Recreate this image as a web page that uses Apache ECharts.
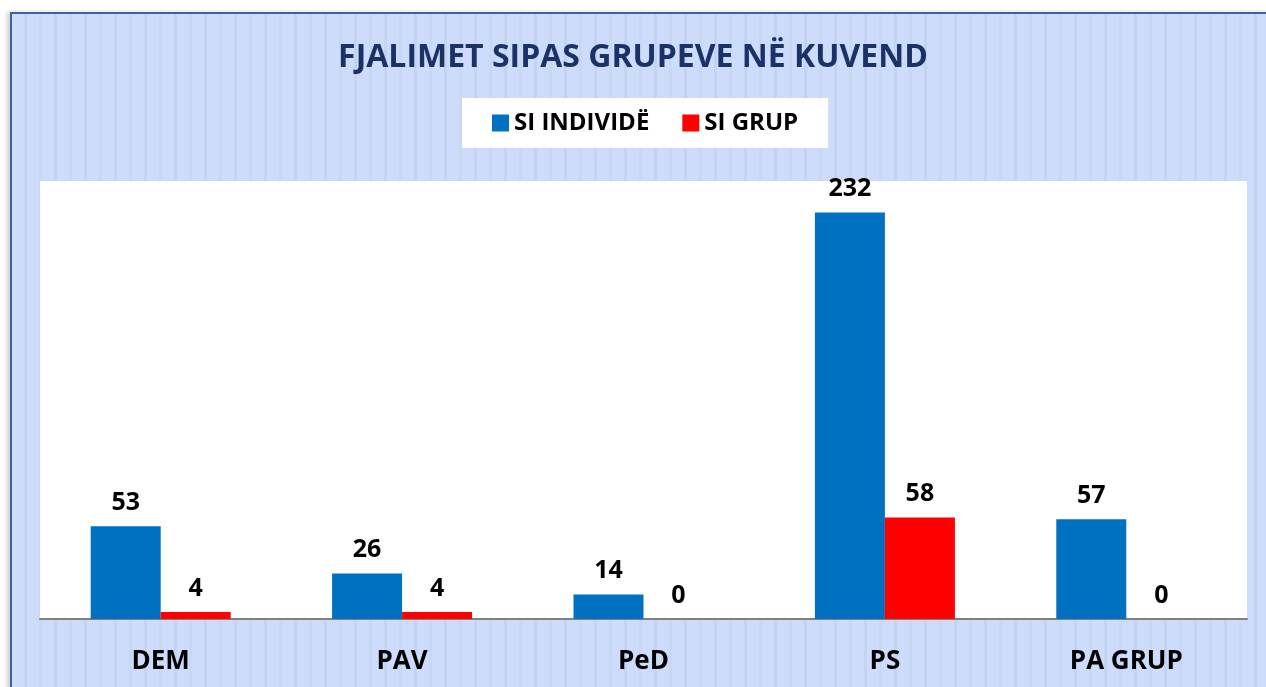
<!DOCTYPE html>
<html>
<head>
<meta charset="utf-8">
<script src="https://cdn.jsdelivr.net/npm/echarts@6/dist/echarts.min.js"></script>
<style>
  html, body { margin: 0; padding: 0; background: #fff; overflow: hidden; }
  #frame {
    position: absolute; left: 10px; top: 12px; width: 1270px; height: 690px;
    border-left: 2px solid #3a64a4; border-top: 2px solid #3a64a4;
    box-shadow: -3px 0 4px rgba(0,0,0,0.18);
    background-color: #cddcfb;
    background-image: repeating-linear-gradient(90deg,
      #cddcfb 0px, #cddcfb 12px, #c3d3f0 12px, #c3d3f0 15px,
      #cddcfb 15px, #cddcfb 27px, #c7d7f4 27px, #c7d7f4 30px);
  }
  #chart { position: absolute; left: 0; top: 0; width: 1266px; height: 687px; }
</style>
</head>
<body>
<div id="frame"></div>
<div id="chart"></div>
<script>
  const categories = ['DEM', 'PAV', 'PeD', 'PS', 'PA GRUP'];
  const individual = [53, 26, 14, 232, 57];
  const group = [4, 4, 0, 58, 0];
  const seriesNames = ['SI INDIVIDË', 'SI GRUP'];

  const chart = echarts.init(document.getElementById('chart'));
  const font = '"Open Sans", sans-serif';

  const labelStyle = {
    show: true,
    position: 'top',
    distance: 11,
    color: '#000',
    fontFamily: font,
    fontWeight: 'bold',
    fontSize: 25
  };

  chart.setOption({
    animation: false,
    title: {
      text: 'FJALIMET SIPAS GRUPEVE NË KUVEND',
      left: 'center',
      top: 37,
      textStyle: {
        color: '#1a3266',
        fontFamily: font,
        fontWeight: 'bold',
        fontSize: 32
      }
    },
    legend: {
      top: 98,
      left: 462,
      backgroundColor: '#fff',
      padding: [13, 30, 13, 30],
      itemWidth: 17,
      itemHeight: 17,
      itemGap: 33,
      icon: 'rect',
      data: seriesNames,
      textStyle: {
        color: '#000',
        fontFamily: font,
        fontWeight: 'bold',
        fontSize: 24
      }
    },
    grid: {
      left: 40,
      right: 19,
      top: 181,
      bottom: 68,
      show: true,
      backgroundColor: '#fff',
      borderWidth: 0
    },
    xAxis: {
      type: 'category',
      data: categories,
      axisTick: { show: false },
      axisLine: { lineStyle: { color: '#808080', width: 2 } },
      axisLabel: {
        margin: 30,
        color: '#000',
        fontFamily: font,
        fontWeight: 'bold',
        fontSize: 26
      }
    },
    yAxis: {
      type: 'value',
      min: 0,
      max: 250,
      show: false,
      splitLine: { show: false }
    },
    series: [
      {
        name: seriesNames[0],
        type: 'bar',
        data: individual,
        barWidth: 70,
        barGap: '0%',
        itemStyle: { color: '#0070c0' },
        label: labelStyle
      },
      {
        name: seriesNames[1],
        type: 'bar',
        data: group,
        barWidth: 70,
        itemStyle: { color: '#ff0000' },
        label: labelStyle
      }
    ]
  });
</script>
</body>
</html>
